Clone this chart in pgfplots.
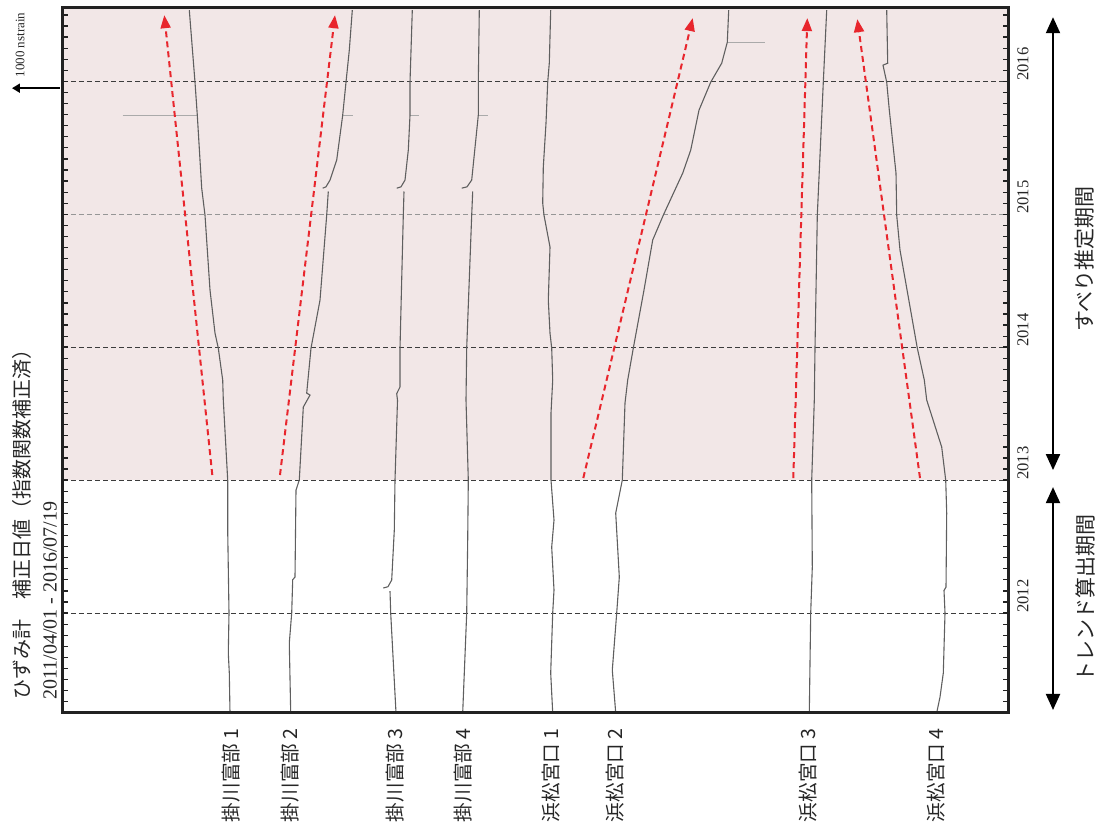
\documentclass[border=0pt]{standalone}
\usepackage{fontspec}
\setmainfont{Liberation Serif}
\newfontfamily\cjk{Noto Sans CJK JP}
\usepackage{pgfplots}
\pgfplotsset{compat=1.18}
\usetikzlibrary{arrows.meta}
\definecolor{pinkbg}{RGB}{242,231,231}
\definecolor{redarr}{RGB}{232,38,45}
\definecolor{trace}{RGB}{95,95,95}
\definecolor{spike}{RGB}{170,170,170}
\definecolor{frame}{RGB}{34,34,34}
\definecolor{gridd}{RGB}{60,60,60}
\definecolor{gridl}{RGB}{150,150,150}
\begin{document}
\begin{tikzpicture}
\useasboundingbox (-31.5pt,-59.625pt) rectangle (517pt,356.375pt);
\begin{axis}[
  at={(0pt,0pt)}, anchor=south west,
  scale only axis, width=472.5pt, height=352.375pt,
  xmin=63, xmax=1008, ymin=2011.25, ymax=2016.55,
  clip=false, axis on top, no markers,
  axis line style={line width=1.5pt, color=frame},
  xtick=\empty,
  ytick={2012,2013,2014,2015,2016},
  yticklabels={2012,2013,2014,2015,2016},
  minor ytick={2011.25,2011.3333333,...,2016.55},
  ytick pos=both,
  tick align=inside,
  major tick length=2.5pt, minor tick length=2.5pt,
  tick style={line width=0.6pt, color=frame},
  yticklabel pos=right,
  yticklabel shift=7.5pt,
  yticklabel style={rotate=90, anchor=west, inner sep=0pt, font=\fontsize{8.3}{9}\selectfont, text=black!85},
  trace/.style={color=trace, line width=0.55pt},
]
% shaded slip-estimation period
\addplot[fill=pinkbg, draw=none] coordinates {(63,2013) (1008,2013) (1008,2016.55) (63,2016.55)};
% year lines
\addplot[gridd, line width=0.5pt, dash pattern=on 2.5pt off 1.5pt] coordinates {(63,2012) (1008,2012)};
\addplot[gridd, line width=0.5pt, dash pattern=on 2.5pt off 1.5pt] coordinates {(63,2013) (1008,2013)};
\addplot[gridd, line width=0.5pt, dash pattern=on 2.5pt off 1.5pt] coordinates {(63,2014) (1008,2014)};
\addplot[gridl, line width=0.5pt, dash pattern=on 2.5pt off 1.5pt] coordinates {(63,2015) (1008,2015)};
\addplot[gridd, line width=0.5pt, dash pattern=on 2.5pt off 1.5pt] coordinates {(63,2016) (1008,2016)};
% spikes (missing data)
\addplot[spike, line width=0.6pt] coordinates {(122.7,2015.744) (197.3,2015.744)};
\addplot[spike, line width=0.6pt] coordinates {(342.7,2015.744) (353,2015.744)};
\addplot[spike, line width=0.6pt] coordinates {(410,2015.744) (419,2015.744)};
\addplot[spike, line width=0.6pt] coordinates {(478.3,2015.744) (488,2015.744)};
\addplot[spike, line width=0.6pt] coordinates {(727.3,2016.293) (765,2016.293)};
% 掛川富部1
\addplot[trace] coordinates {
(189.3,2016.534) (195,2015.992) (197.3,2015.744) (201.7,2015.195) (205,2014.992)
(210,2014.429) (215,2014.105) (218.3,2013.992) (222.7,2013.752) (223.3,2013.602)
(227.7,2013.0) (227.7,2012.624) (229,2012.0) (228.3,2011.699) (229.3,2011.549) (230,2011.25)};
% 掛川富部2
\addplot[trace] coordinates {
(352.3,2016.534) (349.3,2016.233) (346,2015.992) (342.7,2015.744) (336.7,2015.406)
(330,2015.256) (326,2015.205) (322.7,2015.195)};
\addplot[trace] coordinates {
(328.3,2015.17) (326.7,2014.992)
(320,2014.353) (311,2013.992) (306.7,2013.654) (310,2013.639) (303.3,2013.549)
(299.3,2013.0) (296,2012.925) (295,2012.271) (292.7,2012.25) (291.7,2012.0)
(289.3,2011.774) (290.7,2011.25)};
% 掛川富部3
\addplot[trace] coordinates {
(412.3,2016.534) (410,2015.992) (410,2015.744) (408.3,2015.481) (405,2015.256)
(401,2015.205) (396.7,2015.195)};
\addplot[trace] coordinates {
(404,2015.17) (403.3,2014.992) (400,2013.992) (400,2013.70)
(396.7,2013.65) (397.5,2013.60) (395,2013.0) (394.3,2012.624) (391.7,2012.248)
(388,2012.198) (383.3,2012.188)};
\addplot[trace] coordinates {
(390,2012.165) (390.7,2012.0) (396,2011.25)};
% 掛川富部4
\addplot[trace] coordinates {
(479.3,2016.534) (478.3,2015.992) (478.3,2015.744) (471.7,2015.256) (467,2015.205)
(461.7,2015.195)};
\addplot[trace] coordinates {
(472.7,2015.17) (471.7,2014.992) (466.7,2013.992) (466,2013.602) (468.3,2013.0)
(467.7,2012.549) (466.7,2012.0) (462.7,2011.25)};
% 浜松宮口1
\addplot[trace] coordinates {
(550.7,2016.534) (549.3,2016.135) (547.7,2015.992) (546,2015.684) (543.3,2015.353)
(542.7,2015.083) (544,2014.992) (550,2014.752) (548.3,2014.353) (550,2014.105)
(551.7,2013.992) (552.7,2013.752) (551,2013.504) (551,2013.0) (554,2012.699)
(551.7,2012.496) (554,2012.173) (552.7,2012.0) (550.7,2011.549) (552.7,2011.25)};
% 浜松宮口2
\addplot[trace] coordinates {
(728.7,2016.534) (727.3,2016.293) (721.7,2016.135) (710.7,2015.992) (699,2015.782)
(690.7,2015.481) (682.7,2015.308) (663.3,2014.992) (652.7,2014.805) (644,2014.429)
(633.3,2013.992) (627.7,2013.752) (625,2013.579) (622.3,2013.0) (615.7,2012.752)
(619.3,2012.271) (616.7,2012.0) (612.3,2011.571) (615.7,2011.25)};
% 浜松宮口3
\addplot[trace] coordinates {
(826.7,2016.534) (823.3,2015.992) (817.3,2014.992) (815,2013.992) (814.3,2013.602)
(811.7,2013.0) (812.3,2012.346) (810.7,2012.0) (809.3,2011.25)};
% 浜松宮口4
\addplot[trace] coordinates {
(886.7,2016.534) (887.7,2016.135) (883,2016.12) (886.7,2015.992) (889.3,2015.782)
(896,2015.308) (896.7,2014.992) (900,2014.729) (917.3,2013.992) (924.3,2013.752)
(926.7,2013.602) (941.7,2013.248) (945.7,2013.0) (946.7,2012.752) (946,2012.195)
(944,2012.17) (945,2012.0) (943.3,2011.549) (940,2011.368) (936.7,2011.25)};
% red dashed arrows
\addplot[redarr, line width=1pt, dash pattern=on 3pt off 2pt, -{Triangle[length=6.5pt,width=5pt]}] coordinates {(212.3,2013.038) (164.3,2016.496)};
\addplot[redarr, line width=1pt, dash pattern=on 3pt off 2pt, -{Triangle[length=6.5pt,width=5pt]}] coordinates {(280,2013.038) (335,2016.496)};
\addplot[redarr, line width=1pt, dash pattern=on 3pt off 2pt, -{Triangle[length=6.5pt,width=5pt]}] coordinates {(583.3,2013.015) (692.7,2016.474)};
\addplot[redarr, line width=1pt, dash pattern=on 3pt off 2pt, -{Triangle[length=6.5pt,width=5pt]}] coordinates {(793.3,2013.015) (807.3,2016.474)};
\addplot[redarr, line width=1pt, dash pattern=on 3pt off 2pt, -{Triangle[length=6.5pt,width=5pt]}] coordinates {(920,2013.015) (857.3,2016.466)};
% annotations
\draw[line width=1pt, -{Triangle[length=4pt,width=4.5pt]}] (axis cs:60,2015.947) -- (axis cs:12,2015.947);
\node[rotate=90, font=\fontsize{6.5}{7}\selectfont, text=black!85] at (axis cs:20,2016.271) {1000 nstrain};
\node[rotate=90, anchor=west, inner sep=0pt, font=\cjk\fontsize{10}{12}\selectfont, text=black!85] at (axis cs:22,2011.346) {ひずみ計　補正日値（指数関数補正済）};
\node[rotate=90, anchor=west, inner sep=0pt, font=\fontsize{10}{12}\selectfont, text=black!85] at (axis cs:50,2011.346) {2011/04/01 - 2016/07/19};
\draw[line width=1pt, {Triangle[length=8pt,width=7pt]}-{Triangle[length=8pt,width=7pt]}] (axis cs:1053,2013.075) -- (axis cs:1053,2016.481);
\draw[line width=1pt, {Triangle[length=8pt,width=7pt]}-{Triangle[length=8pt,width=7pt]}] (axis cs:1053,2011.271) -- (axis cs:1053,2012.947);
\node[rotate=90, font=\cjk\fontsize{10.5}{12}\selectfont, text=black!85] at (axis cs:1085,2014.662) {すべり推定期間};
\node[rotate=90, font=\cjk\fontsize{10.5}{12}\selectfont, text=black!85] at (axis cs:1085,2012.113) {トレンド算出期間};
\foreach \xx/\lab in {231/掛川富部 1,290/掛川富部 2,395/掛川富部 3,463/掛川富部 4,551/浜松宮口 1,615/浜松宮口 2,808/浜松宮口 3,936/浜松宮口 4}{
  \edef\temp{\noexpand\node[rotate=90, anchor=east, inner sep=0pt, font=\noexpand\cjk\noexpand\fontsize{9.8}{12}\noexpand\selectfont, text=black!85] at (axis cs:\xx,2011.135) {\lab};}
  \temp
}
\end{axis}
\end{tikzpicture}
\end{document}
